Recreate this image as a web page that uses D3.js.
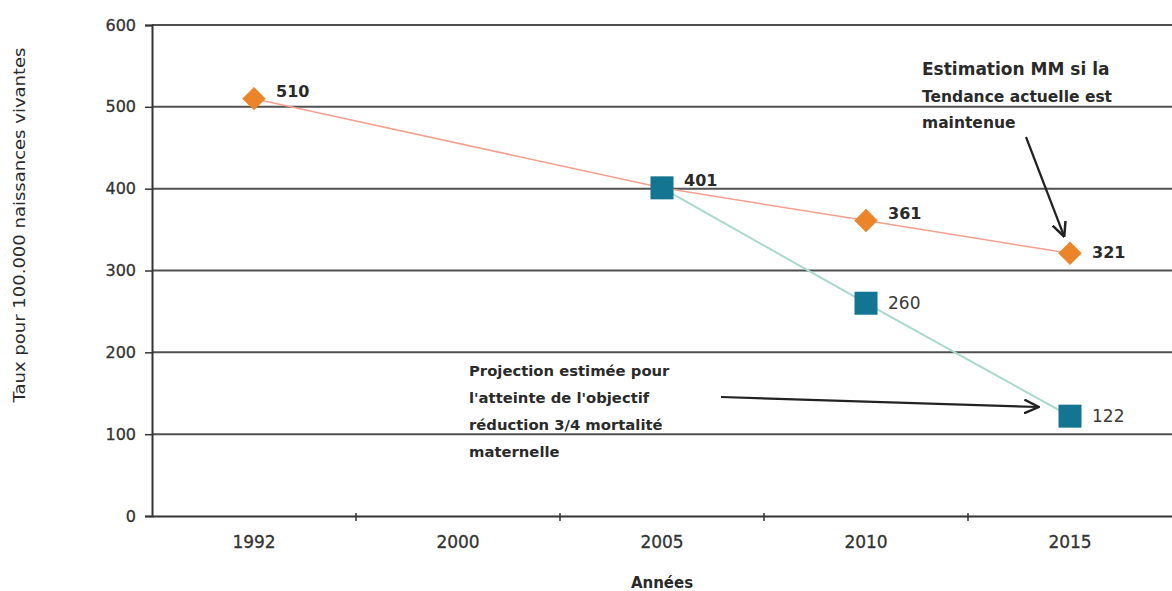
<!DOCTYPE html>
<html>
<head>
<meta charset="utf-8">
<script src="https://cdn.jsdelivr.net/npm/d3@7"></script>
<style>
  body { margin: 0; background: #fff; }
  svg { display: block; font-family: "DejaVu Sans", Verdana, sans-serif; }
</style>
</head>
<body>
<div id="chart"></div>
<script>
// categories and values
const years = ['1992', '2000', '2005', '2010', '2015'];
const trendYears = ['1992', '2005', '2010', '2015'];
const trendValues = [510, 401, 361, 321];
const targetYears = ['2005', '2010', '2015'];
const targetValues = [401, 260, 122];
const yTicks = [0, 100, 200, 300, 400, 500, 600];

const width = 1172, height = 591;
const margin = { top: 25, right: 0, bottom: 75, left: 152 };

const svg = d3.select('#chart').append('svg')
  .attr('width', width)
  .attr('height', height);

const x = d3.scaleBand().domain(years).range([margin.left, width - margin.right]);
const y = d3.scaleLinear().domain([0, 600]).range([height - margin.bottom, margin.top]);
const cx = d => x(d) + x.bandwidth() / 2;

const trend = trendYears.map((d, i) => [d, trendValues[i]]);
const target = targetYears.map((d, i) => [d, targetValues[i]]);

// horizontal grid lines
svg.append('g')
  .selectAll('line')
  .data(yTicks.slice(1))
  .join('line')
  .attr('x1', margin.left)
  .attr('x2', width)
  .attr('y1', d => y(d))
  .attr('y2', d => y(d))
  .attr('stroke', '#505050')
  .attr('stroke-width', 2);

// y axis
const yAxis = svg.append('g')
  .attr('transform', `translate(${margin.left},0)`)
  .call(d3.axisLeft(y).tickValues(yTicks).tickSize(7).tickPadding(9));
yAxis.select('.domain').attr('stroke', '#333').attr('stroke-width', 2);
yAxis.selectAll('.tick line').attr('stroke', '#333').attr('stroke-width', 1.5);
yAxis.selectAll('.tick text')
  .attr('font-family', '"DejaVu Sans", sans-serif')
  .attr('font-size', 16).attr('fill', '#333')
  .attr('stroke', '#333').attr('stroke-width', 0.3);

// x axis
const xAxis = svg.append('g')
  .attr('transform', `translate(0,${y(0)})`)
  .call(d3.axisBottom(x).tickSize(0).tickPadding(20));
xAxis.select('.domain').attr('stroke', '#333').attr('stroke-width', 2);
xAxis.selectAll('.tick text')
  .attr('font-family', '"DejaVu Sans", sans-serif')
  .attr('font-size', 17).attr('fill', '#333')
  .attr('stroke', '#333').attr('stroke-width', 0.3);
// tick marks at band boundaries
svg.append('g')
  .selectAll('line')
  .data(years.slice(1))
  .join('line')
  .attr('x1', d => x(d))
  .attr('x2', d => x(d))
  .attr('y1', y(0) - 3)
  .attr('y2', y(0) + 5)
  .attr('stroke', '#333')
  .attr('stroke-width', 1.5);

// series lines
const line = d3.line().x(d => cx(d[0])).y(d => y(d[1]));
svg.append('path')
  .datum(trend)
  .attr('d', line)
  .attr('fill', 'none')
  .attr('stroke', '#f4a08e')
  .attr('stroke-width', 1.5);
svg.append('path')
  .datum(target)
  .attr('d', line)
  .attr('fill', 'none')
  .attr('stroke', '#a9d8cc')
  .attr('stroke-width', 2);

// diamonds
svg.append('g')
  .selectAll('path')
  .data(trend)
  .join('path')
  .attr('d', d3.symbol(d3.symbolDiamond2, 350))
  .attr('transform', d => `translate(${cx(d[0])},${y(d[1])})`)
  .attr('fill', '#ec842a');

// squares
svg.append('g')
  .selectAll('rect')
  .data(target)
  .join('rect')
  .attr('x', d => cx(d[0]) - 11.5)
  .attr('y', d => y(d[1]) - 11.5)
  .attr('width', 23)
  .attr('height', 23)
  .attr('fill', '#137591');

// value labels, bold for the trend series
svg.append('g')
  .selectAll('text')
  .data(trend)
  .join('text')
  .attr('x', d => cx(d[0]) + 22)
  .attr('y', (d, i) => y(d[1]) + (i === trend.length - 1 ? 5 : -2))
  .attr('font-size', 16)
  .attr('font-weight', 'bold')
  .attr('fill', '#2a2a2a')
  .text(d => d[1]);
svg.append('g')
  .selectAll('text')
  .data(target.slice(1))
  .join('text')
  .attr('x', d => cx(d[0]) + 22)
  .attr('y', d => y(d[1]) + 6)
  .attr('font-size', 17)
  .attr('fill', '#3a3a3a')
  .text(d => d[1]);

// annotations
svg.append('defs').append('marker')
  .attr('id', 'arrow')
  .attr('viewBox', '0 0 10 10')
  .attr('refX', 9).attr('refY', 5)
  .attr('markerWidth', 7).attr('markerHeight', 7)
  .attr('orient', 'auto')
  .append('path')
  .attr('d', 'M0,0.5 L9.5,5 L0,9.5')
  .attr('fill', 'none')
  .attr('stroke', '#222')
  .attr('stroke-width', 1.6);

const note1 = ['Estimation MM si la', 'Tendance actuelle est', 'maintenue'];
svg.append('text')
  .attr('x', 922).attr('y', 75)
  .attr('font-size', 16).attr('font-weight', 'bold').attr('fill', '#2a2a2a')
  .selectAll('tspan')
  .data(note1)
  .join('tspan')
  .attr('x', 922)
  .attr('dy', (d, i) => i === 0 ? 0 : 26.5)
  .attr('font-size', (d, i) => i === 0 ? 17 : 15.5)
  .text(d => d);
svg.append('line')
  .attr('x1', 1026).attr('y1', 137)
  .attr('x2', 1064).attr('y2', 236)
  .attr('stroke', '#222').attr('stroke-width', 2.2)
  .attr('marker-end', 'url(#arrow)');

const note2 = ['Projection estimée pour', "l'atteinte de l'objectif", 'réduction 3/4 mortalité', 'maternelle'];
svg.append('text')
  .attr('x', 469).attr('y', 376)
  .attr('font-size', 14.8).attr('font-weight', 'bold').attr('fill', '#2a2a2a')
  .selectAll('tspan')
  .data(note2)
  .join('tspan')
  .attr('x', 469)
  .attr('dy', (d, i) => i === 0 ? 0 : 27)
  .text(d => d);
svg.append('line')
  .attr('x1', 721).attr('y1', 397)
  .attr('x2', 1038).attr('y2', 407)
  .attr('stroke', '#222').attr('stroke-width', 2.2)
  .attr('marker-end', 'url(#arrow)');

// axis titles
svg.append('text')
  .attr('transform', 'translate(25,225) rotate(-90)')
  .attr('text-anchor', 'middle')
  .attr('font-size', 15)
  .attr('textLength', 355)
  .attr('lengthAdjust', 'spacingAndGlyphs')
  .attr('fill', '#2a2a2a')
  .text('Taux pour 100.000 naissances vivantes');
svg.append('text')
  .attr('x', cx('2005'))
  .attr('y', 588)
  .attr('text-anchor', 'middle')
  .attr('font-size', 15)
  .attr('font-weight', 'bold')
  .attr('fill', '#2a2a2a')
  .text('Années');
</script>
</body>
</html>
